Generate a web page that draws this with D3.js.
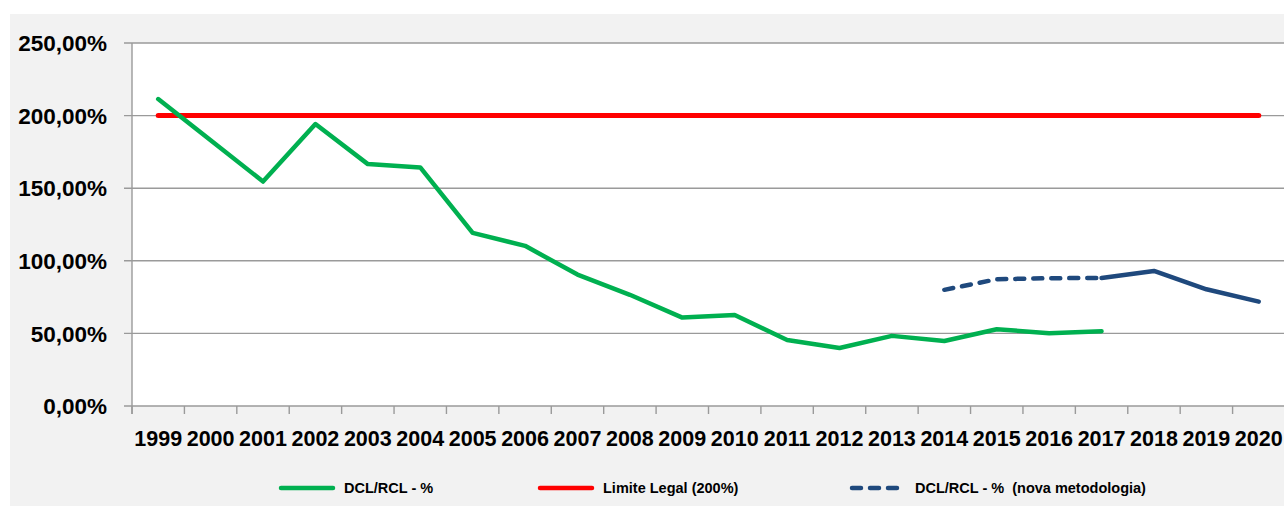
<html>
<head>
<meta charset="utf-8">
<title>DCL/RCL</title>
<style>
body { margin: 0; background: #fff; font-family: "Liberation Sans", Arial, sans-serif; }
svg text { font-weight: bold; fill: #000; white-space: pre; }
</style>
</head>
<body>
<div id="vis"></div>
<script src="https://d3js.org/d3.v7.min.js"></script>
<script>

// anos (categorias do eixo x)
var years = ["1999","2000","2001","2002","2003","2004","2005","2006","2007","2008","2009",
             "2010","2011","2012","2013","2014","2015","2016","2017","2018","2019","2020"];

// DCL/RCL - % (1999-2017)
var dclYears = years.slice(0, 19);
var dclValues = [211.4, 183.0, 154.6, 194.2, 166.6, 164.3, 119.2, 110.3, 90.5, 76.6, 60.9,
                 62.7, 45.5, 39.9, 48.3, 44.8, 52.9, 50.1, 51.5];

// DCL/RCL - % (nova metodologia), 2014-2020
var novaYears = years.slice(15);
var novaValues = [80.0, 87.3, 88.0, 88.2, 93.0, 80.4, 71.9];
var novaDashedUntil = "2017"; // tracejado ate 2017, continuo depois

// limite legal
var limite = 200;

var yTicks = [0, 50, 100, 150, 200, 250];

var legendItems = [
  { label: "DCL/RCL - %", color: "#00b050", dash: null, x: 279 },
  { label: "Limite Legal (200%)", color: "#ff0000", dash: null, x: 538 },
  { label: "DCL/RCL - %  (nova metodologia)", color: "#1f497d", dash: "9,9", x: 850 }
];

var W = 1284, H = 506;
var plot = { left: 132, right: 1285, top: 43, bottom: 406 };

var svg = d3.select("#vis").append("svg")
    .attr("width", W)
    .attr("height", H);

// fundo do grafico
svg.append("rect").attr("x", 10).attr("y", 14).attr("width", W - 10).attr("height", H - 14)
    .attr("fill", "#f2f2f2");
svg.append("rect").attr("x", plot.left).attr("y", plot.top)
    .attr("width", plot.right - plot.left).attr("height", plot.bottom - plot.top)
    .attr("fill", "#fff");

var x = d3.scaleBand().domain(years).range([plot.left, plot.right]);
var y = d3.scaleLinear().domain([0, 250]).range([plot.bottom, plot.top]);
var cx = function(d) { return x(d) + x.bandwidth() / 2; };

var fmt = function(v) { return v.toFixed(2).replace(".", ",") + "%"; };

// linhas de grade + rotulos do eixo y
svg.selectAll("line.grid").data(yTicks).enter().append("line")
    .attr("class", "grid")
    .attr("x1", plot.left - 8).attr("x2", plot.right)
    .attr("y1", function(d) { return y(d); }).attr("y2", function(d) { return y(d); })
    .attr("stroke", "#9a9a9a").attr("stroke-width", 1.4);

svg.selectAll("text.ylab").data(yTicks).enter().append("text")
    .attr("class", "ylab")
    .attr("x", 107).attr("y", function(d) { return y(d); })
    .attr("dy", "0.36em")
    .attr("text-anchor", "end")
    .style("font-size", "22.5px")
    .text(fmt);

// eixo y
svg.append("line").attr("x1", plot.left).attr("x2", plot.left)
    .attr("y1", plot.top).attr("y2", plot.bottom + 8)
    .attr("stroke", "#9a9a9a").attr("stroke-width", 1.4);

// marcas do eixo x (entre categorias)
var bounds = years.map(function(d) { return x(d); }).concat([plot.right]);
svg.selectAll("line.xtick").data(bounds).enter().append("line")
    .attr("class", "xtick")
    .attr("x1", function(d) { return d; }).attr("x2", function(d) { return d; })
    .attr("y1", plot.bottom).attr("y2", plot.bottom + 8)
    .attr("stroke", "#9a9a9a").attr("stroke-width", 1.4);

svg.selectAll("text.xlab").data(years).enter().append("text")
    .attr("class", "xlab")
    .attr("x", cx).attr("y", 446)
    .attr("text-anchor", "middle")
    .style("font-size", "21.5px")
    .text(function(d) { return d; });

var line = d3.line()
    .x(function(d) { return cx(d.year); })
    .y(function(d) { return y(d.value); });

function pairs(ys, vs) {
  return ys.map(function(d, i) { return { year: d, value: vs[i] }; });
}

// limite legal
svg.append("path")
    .datum(years.map(function(d) { return { year: d, value: limite }; }))
    .attr("d", line)
    .attr("fill", "none").attr("stroke", "#ff0000").attr("stroke-width", 5)
    .attr("stroke-linecap", "round");

// DCL/RCL
svg.append("path")
    .datum(pairs(dclYears, dclValues))
    .attr("d", line)
    .attr("fill", "none").attr("stroke", "#00b050").attr("stroke-width", 4.5)
    .attr("stroke-linejoin", "round").attr("stroke-linecap", "round");

// nova metodologia
var nova = pairs(novaYears, novaValues);
var cut = novaYears.indexOf(novaDashedUntil);
svg.append("path")
    .datum(nova.slice(0, cut + 1))
    .attr("d", line)
    .attr("fill", "none").attr("stroke", "#1f497d").attr("stroke-width", 4.5)
    .attr("stroke-dasharray", "9,9").attr("stroke-linecap", "round");
svg.append("path")
    .datum(nova.slice(cut))
    .attr("d", line)
    .attr("fill", "none").attr("stroke", "#1f497d").attr("stroke-width", 4.5)
    .attr("stroke-linejoin", "round").attr("stroke-linecap", "round");

// legenda
var lg = svg.selectAll("g.legend").data(legendItems).enter().append("g")
    .attr("class", "legend")
    .attr("transform", function(d) { return "translate(" + d.x + ",488)"; });

lg.append("line")
    .attr("x1", 2).attr("x2", 54)
    .attr("stroke", function(d) { return d.color; })
    .attr("stroke-width", 4.5)
    .attr("stroke-linecap", "round")
    .attr("stroke-dasharray", function(d) { return d.dash; });

lg.append("text")
    .attr("x", 65).attr("dy", "0.36em")
    .style("font-size", "14.5px")
    .text(function(d) { return d.label; });

</script>
</body>
</html>
